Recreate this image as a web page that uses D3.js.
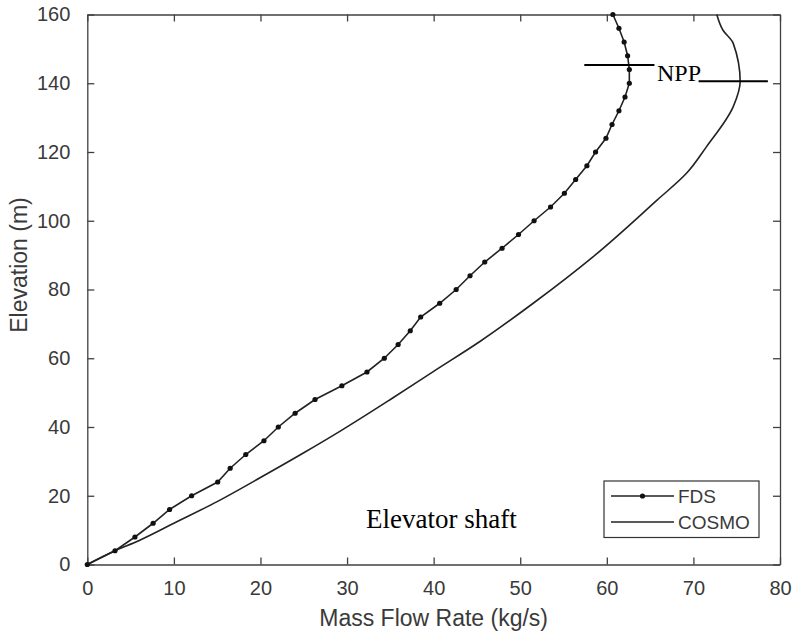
<!DOCTYPE html>
<html>
<head>
<meta charset="utf-8">
<script src="https://cdn.jsdelivr.net/npm/d3@7"></script>
<style>
  body { margin: 0; background: #fff; }
  svg { display: block; }
  .tick text { font-family: "Liberation Sans", Arial, sans-serif; }
</style>
</head>
<body>
<div class="chart-container"></div>
<script>
'use strict';

// FDS: one sample every 4 m of elevation
var fdsElevation = [0, 4, 8, 12, 16, 20, 24, 28, 32, 36, 40, 44, 48, 52, 56, 60, 64, 68, 72, 76, 80,
  84, 88, 92, 96, 100, 104, 108, 112, 116, 120, 124, 128, 132, 136, 140, 144, 148, 152, 156, 160];
var fdsFlow = [0, 3.2, 5.5, 7.6, 9.5, 12.05, 15.06, 16.5, 18.3, 20.4, 22.06, 24.0, 26.3, 29.4, 32.3,
  34.3, 35.9, 37.3, 38.5, 40.7, 42.6, 44.2, 45.9, 47.9, 49.8, 51.6, 53.5, 55.1, 56.4, 57.7, 58.7,
  59.9, 60.6, 61.4, 62.1, 62.6, 62.6, 62.4, 62.0, 61.4, 60.7];

// COSMO
var cosmoFlow = [0, 3, 6, 10, 15, 20, 25, 29.4, 35, 40, 45.3, 51.5, 58.4, 65.8, 69.2, 71.5,
  74.6, 75.4, 74.6, 73.4, 72.7];
var cosmoElevation = [0, 3.8, 7, 12, 18.3, 25.3, 32.5, 39.1, 48, 56.2, 64.8, 76, 89.5, 106,
  113.8, 121.5, 133.2, 140.5, 151.6, 155.5, 160];

var xTicks = [0, 10, 20, 30, 40, 50, 60, 70, 80];
var yTicks = [0, 20, 40, 60, 80, 100, 120, 140, 160];

var seriesNames = ['FDS', 'COSMO'];

// NPP marks (neutral pressure plane), in data units
var nppFlowStart = [57.4, 70.6];
var nppFlowEnd = [65.5, 78.6];
var nppElevation = [145.3, 140.6];

var width = 795,
  height = 636,
  margin = { top: 14.5, right: 15, bottom: 71.5, left: 87.3 },
  axisColor = '#404040',
  lineColor = '#222';

var svg = d3.select('.chart-container').append('svg')
  .attr('width', width)
  .attr('height', height);

var x = d3.scaleLinear().domain([0, 80]).range([margin.left, width - margin.right]);
var y = d3.scaleLinear().domain([0, 160]).range([height - margin.bottom, margin.top]);

// inward ticks on all four sides, like a boxed matlab axes
svg.append('g')
  .attr('transform', 'translate(0,' + y(0) + ')')
  .call(d3.axisBottom(x).tickValues(xTicks).tickSizeInner(-7).tickSizeOuter(0).tickPadding(16))
  .call(styleAxis)
  .selectAll('text').attr('dy', '0.71em');

svg.append('g')
  .attr('transform', 'translate(0,' + y(160) + ')')
  .call(d3.axisTop(x).tickValues(xTicks).tickSizeInner(-7).tickSizeOuter(0).tickFormat(''))
  .call(styleAxis);

svg.append('g')
  .attr('transform', 'translate(' + x(0) + ',0)')
  .call(d3.axisLeft(y).tickValues(yTicks).tickSizeInner(-7).tickSizeOuter(0).tickPadding(17))
  .call(styleAxis);

svg.append('g')
  .attr('transform', 'translate(' + x(80) + ',0)')
  .call(d3.axisRight(y).tickValues(yTicks).tickSizeInner(-7).tickSizeOuter(0).tickFormat(''))
  .call(styleAxis);

function styleAxis(g) {
  g.select('.domain').attr('stroke', axisColor).attr('stroke-width', 1.3);
  g.selectAll('.tick line').attr('stroke', axisColor).attr('stroke-width', 1.3);
  g.selectAll('.tick text')
    .attr('fill', '#3a3a3a')
    .style('font-size', '20px');
}

svg.append('text')
  .attr('x', (x(0) + x(80)) / 2)
  .attr('y', 626)
  .attr('text-anchor', 'middle')
  .attr('fill', '#3a3a3a')
  .style('font-family', '"Liberation Sans", Arial, sans-serif')
  .style('font-size', '23px')
  .text('Mass Flow Rate (kg/s)');

svg.append('text')
  .attr('transform', 'translate(27,265) rotate(-90)')
  .attr('text-anchor', 'middle')
  .attr('fill', '#3a3a3a')
  .style('font-family', '"Liberation Sans", Arial, sans-serif')
  .style('font-size', '23px')
  .text('Elevation (m)');

var line = d3.line()
  .x(function(d) { return x(d[0]); })
  .y(function(d) { return y(d[1]); });

var fdsData = d3.zip(fdsFlow, fdsElevation);
var cosmoData = d3.zip(cosmoFlow, cosmoElevation);

svg.append('path')
  .datum(cosmoData)
  .attr('fill', 'none')
  .attr('stroke', lineColor)
  .attr('stroke-width', 1.6)
  .attr('d', line.curve(d3.curveMonotoneY));

svg.append('path')
  .datum(fdsData)
  .attr('fill', 'none')
  .attr('stroke', lineColor)
  .attr('stroke-width', 1.6)
  .attr('d', line.curve(d3.curveLinear));

svg.selectAll('circle.fds')
  .data(fdsData)
  .enter()
  .append('circle')
  .attr('class', 'fds')
  .attr('cx', function(d) { return x(d[0]); })
  .attr('cy', function(d) { return y(d[1]); })
  .attr('r', 2.6)
  .attr('fill', '#111');

// NPP annotation
svg.selectAll('line.npp')
  .data(d3.range(nppElevation.length))
  .enter()
  .append('line')
  .attr('class', 'npp')
  .attr('x1', function(i) { return x(nppFlowStart[i]); })
  .attr('x2', function(i) { return x(nppFlowEnd[i]); })
  .attr('y1', function(i) { return y(nppElevation[i]); })
  .attr('y2', function(i) { return y(nppElevation[i]); })
  .attr('stroke', '#000')
  .attr('stroke-width', 2);

svg.append('text')
  .attr('x', x(65.8))
  .attr('y', y(140.7))
  .attr('fill', '#000')
  .style('font-family', '"Liberation Serif", "Times New Roman", serif')
  .style('font-size', '24px')
  .text('NPP');

svg.append('text')
  .attr('x', x(32.2))
  .attr('y', y(10.5))
  .attr('fill', '#000')
  .style('font-family', '"Liberation Serif", "Times New Roman", serif')
  .style('font-size', '27px')
  .text('Elevator shaft');

// legend box
var legend = svg.append('g').attr('transform', 'translate(604,481)');

legend.append('rect')
  .attr('width', 155)
  .attr('height', 56.5)
  .attr('fill', '#fff')
  .attr('stroke', '#333')
  .attr('stroke-width', 1.2);

var legendItem = legend.selectAll('g.item')
  .data(seriesNames)
  .enter()
  .append('g')
  .attr('class', 'item')
  .attr('transform', function(d, i) { return 'translate(0,' + (15 + i * 26) + ')'; });

legendItem.append('line')
  .attr('x1', 7)
  .attr('x2', 70)
  .attr('stroke', lineColor)
  .attr('stroke-width', 1.6);

legendItem.filter(function(d) { return d === 'FDS'; })
  .append('circle')
  .attr('cx', 38.5)
  .attr('r', 2.6)
  .attr('fill', '#111');

legendItem.append('text')
  .attr('x', 74)
  .attr('dy', '0.36em')
  .attr('fill', '#3a3a3a')
  .style('font-family', '"Liberation Sans", Arial, sans-serif')
  .style('font-size', '19px')
  .text(function(d) { return d; });
</script>
</body>
</html>
